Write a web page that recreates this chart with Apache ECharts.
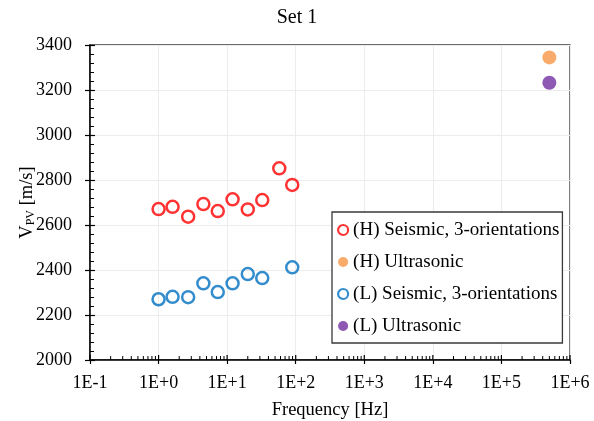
<!DOCTYPE html>
<html>
<head>
<meta charset="utf-8">
<script src="https://cdn.jsdelivr.net/npm/echarts@6/dist/echarts.min.js"></script>
<style>
  html, body { margin: 0; padding: 0; background: #fff; }
  #chart { width: 594px; height: 421px; }
</style>
</head>
<body>
<div id="chart"></div>
<script>
// Seismic measurements (three orientations), high and low velocity samples
const hSeismicFreq = [1.0, 1.6, 2.7, 4.5, 7.3, 12, 20, 32.5, 57.6, 89];
const hSeismicVel  = [2671, 2681, 2637, 2693, 2662, 2714, 2669, 2711, 2852, 2778];
const lSeismicFreq = [1.0, 1.6, 2.7, 4.5, 7.3, 12, 20, 32.5, 89];
const lSeismicVel  = [2270, 2281, 2279, 2341, 2302, 2341, 2382, 2364, 2412];

// Ultrasonic measurements
const hUltraFreq = [5e5];
const hUltraVel  = [3345];
const lUltraFreq = [5e5];
const lUltraVel  = [3232];

const seriesNames = [
  '(H) Seismic, 3-orientations',
  '(H) Ultrasonic',
  '(L) Seismic, 3-orientations',
  '(L) Ultrasonic'
];

// Axis ranges and tick labels
const X_MIN = 0.1, X_MAX = 1e6;
const Y_MIN = 2000, Y_MAX = 3400, Y_STEP = 200;
const xTickLabels = ['1E-1', '1E+0', '1E+1', '1E+2', '1E+3', '1E+4', '1E+5', '1E+6'];

const SERIF = '"Liberation Serif", "Times New Roman", serif';
const RED = '#ff0000', BLUE = '#0070c0', ORANGE = '#f79646', PURPLE = '#7030a0';

// Decade and sub-decade tick positions for the log axis (1..9 x 10^k)
const logTickValues = [];
for (let e = -1; e < 6; e++) {
  for (let m = 1; m <= 9; m++) logTickValues.push(m * Math.pow(10, e));
}
logTickValues.push(X_MAX);

const zip = (xs, ys) => xs.map((x, i) => [x, ys[i]]);

const chart = echarts.init(document.getElementById('chart'), null, { renderer: 'canvas' });

const baseYAxis = {
  type: 'value',
  min: Y_MIN, max: Y_MAX, interval: Y_STEP,
  position: 'left'
};

chart.setOption({
  animation: false,
  backgroundColor: '#fff',
  title: {
    text: 'Set 1',
    left: 'center',
    top: 3,
    textStyle: { fontFamily: SERIF, fontSize: 20, fontWeight: 'normal', color: '#000' }
  },
  grid: {
    left: 90, right: 24, top: 45, bottom: 61,
    containLabel: false,
    outerBoundsMode: 'none',
    show: true,
    borderColor: '#3a3a3a',
    borderWidth: 1.3,
    backgroundColor: 'transparent'
  },
  legend: {
    orient: 'vertical',
    left: 332,
    top: 212,
    backgroundColor: '#fff',
    borderColor: '#3a3a3a',
    borderWidth: 1.3,
    borderRadius: 0,
    padding: [8, 3, 7, 5],
    itemWidth: 10,
    itemHeight: 10,
    itemGap: 12,
    textStyle: { fontFamily: SERIF, fontSize: 19, color: '#000', lineHeight: 20 },
    data: [
      { name: seriesNames[0], icon: 'circle', itemStyle: { color: '#fff', borderColor: RED, borderWidth: 2.2 } },
      { name: seriesNames[1], icon: 'circle', itemStyle: { color: ORANGE, borderWidth: 0 } },
      { name: seriesNames[2], icon: 'circle', itemStyle: { color: '#fff', borderColor: BLUE, borderWidth: 2.2 } },
      { name: seriesNames[3], icon: 'circle', itemStyle: { color: PURPLE, borderWidth: 0 } }
    ]
  },
  xAxis: [{
    type: 'log',
    logBase: 10,
    min: X_MIN, max: X_MAX,
    splitNumber: 7,
    position: 'bottom',
    name: 'Frequency [Hz]',
    nameLocation: 'middle',
    nameGap: 41,
    nameMoveOverlap: false,
    nameTextStyle: { fontFamily: SERIF, fontSize: 18.5, color: '#000' },
    axisLine: { show: true, onZero: false, lineStyle: { color: '#000', width: 1.5 } },
    axisTick: { show: true, inside: false, length: 4, lineStyle: { color: '#000', width: 1.2 } },
    axisLabel: {
      fontFamily: SERIF, fontSize: 18, color: '#000', margin: 14,
      formatter: (v) => xTickLabels[Math.round(Math.log10(v)) + 1]
    },
    splitLine: { show: true, lineStyle: { color: '#ececec', width: 1 } }
  }],
  yAxis: [
    Object.assign({}, baseYAxis, {
      name: 'V{s|PV} [m/s]',
      nameLocation: 'middle',
      nameGap: 53,
      nameMoveOverlap: false,
      nameTextStyle: {
        fontFamily: SERIF, fontSize: 18.5, color: '#000',
        rich: { s: { fontFamily: SERIF, fontSize: 12, color: '#000', padding: [7, 0, 0, 0] } }
      },
      axisLine: { show: true, onZero: false, lineStyle: { color: '#000', width: 1.5 } },
      axisTick: { show: true, inside: false, length: 5, lineStyle: { color: '#000', width: 1.2 } },
      axisLabel: {
        fontFamily: SERIF, fontSize: 18, color: '#000', margin: 18,
        formatter: (v) => String(v)
      },
      splitLine: { show: true, lineStyle: { color: '#ececec', width: 1 } }
    }),
    Object.assign({}, baseYAxis, {
      axisLine: { show: false },
      axisTick: { show: true, inside: true, length: 5, lineStyle: { color: '#000', width: 1.2 } },
      minorTick: { show: true, splitNumber: 5, length: 4, lineStyle: { color: '#000', width: 1 } },
      axisLabel: { show: false },
      splitLine: { show: false }
    })
  ],
  series: [
    {
      // inner ticks on the log axis (decades and sub-decades)
      type: 'custom',
      silent: true,
      clip: false,
      z: 5,
      xAxisIndex: 0, yAxisIndex: 0,
      data: logTickValues.map(v => [v, Y_MIN]),
      renderItem: (params, api) => {
        const v = api.value(0);
        const p = api.coord([v, Y_MIN]);
        const lg = Math.log10(v);
        const isMajor = Math.abs(lg - Math.round(lg)) < 1e-9;
        const len = isMajor ? 5 : 4;
        return {
          type: 'line',
          shape: { x1: p[0], y1: p[1], x2: p[0], y2: p[1] - len },
          style: { stroke: '#000', lineWidth: isMajor ? 1.2 : 1 }
        };
      }
    },
    {
      name: seriesNames[0],
      type: 'scatter',
      symbol: 'circle',
      symbolSize: 12,
      clip: false,
      z: 3,
      itemStyle: { color: 'rgba(255,255,255,0)', borderColor: RED, borderWidth: 2.5 },
      data: zip(hSeismicFreq, hSeismicVel)
    },
    {
      name: seriesNames[1],
      type: 'scatter',
      symbol: 'circle',
      symbolSize: 14,
      clip: false,
      z: 3,
      itemStyle: { color: ORANGE, borderWidth: 0 },
      data: zip(hUltraFreq, hUltraVel)
    },
    {
      name: seriesNames[2],
      type: 'scatter',
      symbol: 'circle',
      symbolSize: 12,
      clip: false,
      z: 3,
      itemStyle: { color: 'rgba(255,255,255,0)', borderColor: BLUE, borderWidth: 2.5 },
      data: zip(lSeismicFreq, lSeismicVel)
    },
    {
      name: seriesNames[3],
      type: 'scatter',
      symbol: 'circle',
      symbolSize: 14,
      clip: false,
      z: 3,
      itemStyle: { color: PURPLE, borderWidth: 0 },
      data: zip(lUltraFreq, lUltraVel)
    }
  ]
});
</script>
</body>
</html>
